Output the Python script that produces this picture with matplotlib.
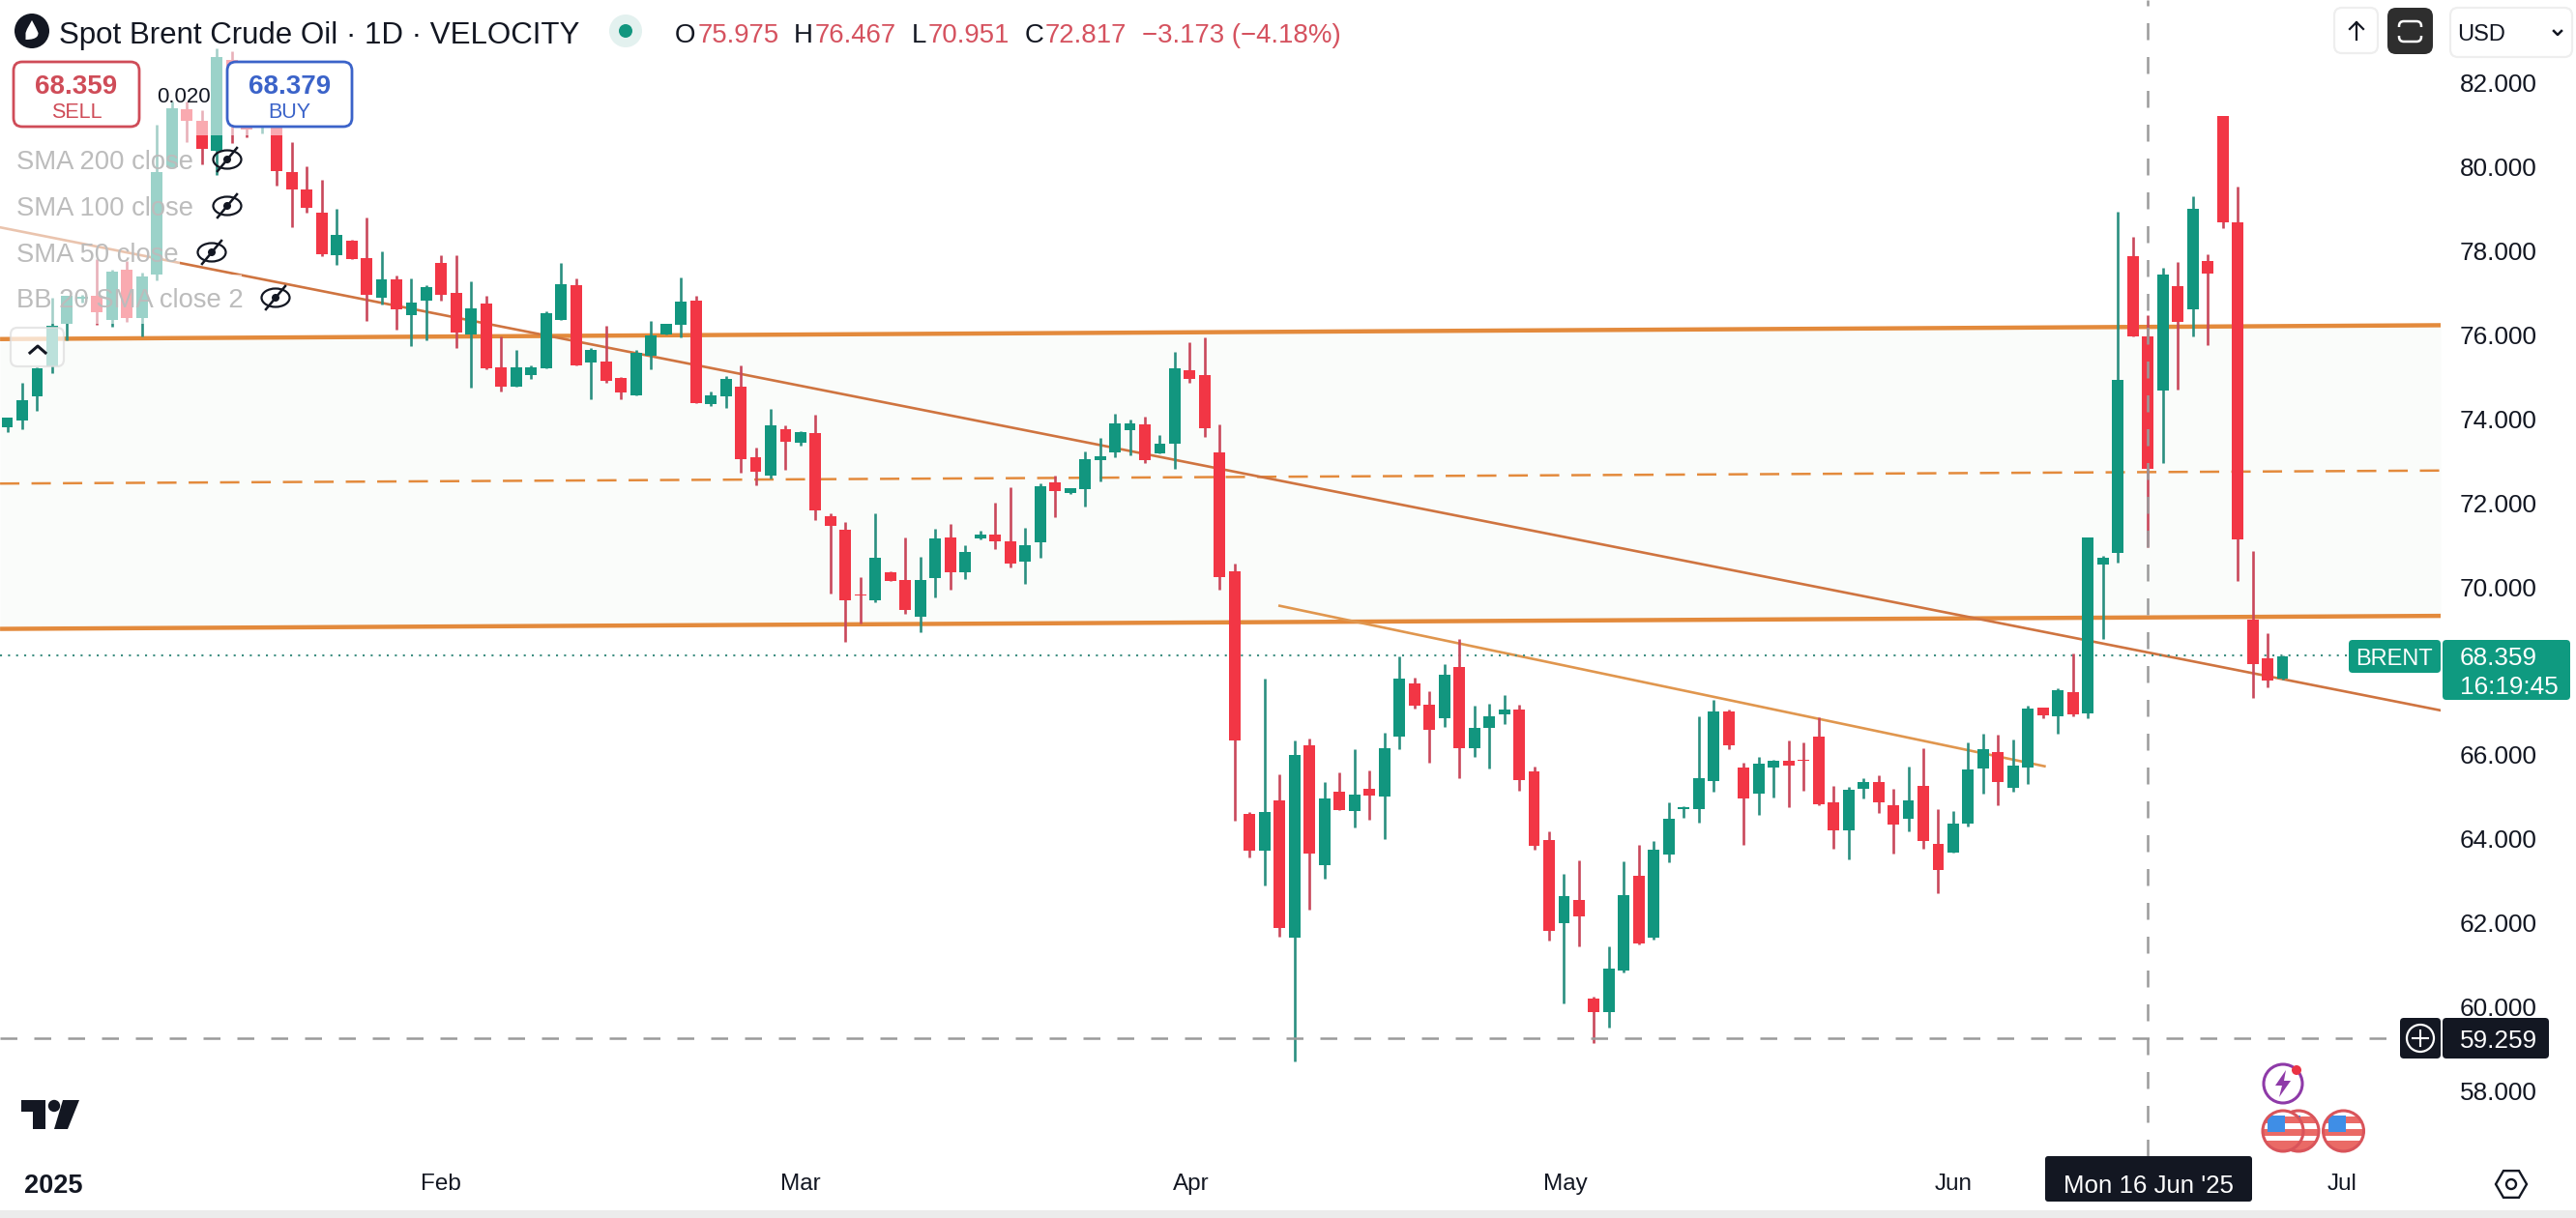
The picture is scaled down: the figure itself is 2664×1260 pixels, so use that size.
import matplotlib
matplotlib.use("Agg")
import matplotlib.pyplot as plt
from matplotlib.patches import FancyBboxPatch, Rectangle, Circle, Ellipse, RegularPolygon, PathPatch, Polygon
from matplotlib.path import Path

plt.rcParams['font.family'] = ['Liberation Sans', 'DejaVu Sans']

# ---------------- data ----------------
opens = [73.80,73.96,74.54,75.24,76.26,76.86,76.92,76.36,77.55,76.40,
 77.44,79.98,81.37,81.10,80.39,82.55,81.67,80.94,81.29,79.87,
 79.46,78.91,77.90,78.24,77.83,76.89,77.32,76.47,76.82,77.71,
 76.99,76.00,76.74,75.23,74.77,75.05,75.21,76.36,77.18,75.34,
 75.37,74.98,74.56,75.50,76.01,76.24,76.82,74.35,74.54,74.77,
 73.08,72.66,73.76,73.43,73.66,71.68,71.36,69.81,69.69,70.35,
 70.17,69.30,70.20,71.18,70.35,71.16,71.25,71.09,70.60,71.06,
 72.49,72.24,72.33,73.02,73.20,73.73,73.87,73.18,73.41,75.16,
 75.04,73.20,70.37,64.60,63.71,64.92,61.65,66.23,63.37,65.12,
 64.66,65.19,65.01,66.44,67.70,67.20,66.87,68.09,66.16,66.64,
 66.97,67.08,65.61,63.97,62.00,62.55,60.20,59.88,60.87,63.12,
 61.65,63.63,64.72,64.71,65.38,67.03,65.70,65.08,65.70,65.86,
 65.89,66.44,64.87,64.20,65.19,65.36,64.80,64.48,65.26,63.87,
 63.68,64.37,65.68,66.07,65.22,65.70,67.13,66.92,67.49,66.99,
 70.54,70.80,77.88,75.975,74.68,77.16,76.61,77.76,81.22,78.69,
 69.22,68.30,67.81]
highs = [74.04,74.86,75.23,76.88,76.92,76.95,77.80,77.55,77.76,77.49,
 81.00,81.56,81.56,81.35,82.82,82.75,81.75,81.21,81.44,80.58,
 80.01,79.69,79.00,78.26,78.80,77.99,77.42,77.34,77.19,77.89,
 77.89,77.28,76.92,75.96,75.64,75.27,76.57,77.72,77.34,75.69,
 76.21,75.00,75.65,76.33,76.26,77.36,76.94,74.65,75.01,75.27,
 73.31,74.23,73.85,73.71,74.10,71.75,71.55,70.24,71.75,70.36,
 71.18,70.72,71.39,71.50,70.99,71.34,72.00,72.37,71.41,72.47,
 72.65,72.35,73.23,73.55,74.12,73.99,74.05,73.62,75.60,75.83,
 75.94,73.87,70.56,64.64,67.82,65.54,66.34,66.39,65.35,65.59,
 66.14,65.63,66.53,68.35,67.84,67.52,68.16,68.76,67.17,67.22,
 67.43,67.20,65.72,64.18,63.17,63.49,60.25,61.44,63.47,63.86,
 63.95,64.87,64.78,66.92,67.31,67.08,65.81,65.95,65.88,66.34,
 66.30,66.90,65.26,65.24,65.45,65.52,65.19,65.72,66.16,64.70,
 64.66,66.30,66.50,66.48,66.37,67.17,67.13,67.59,68.41,71.17,
 70.73,78.93,78.34,76.467,77.59,77.73,79.30,77.91,81.22,79.53,
 70.85,68.90,68.37]
lows = [73.69,73.76,74.19,75.08,75.88,76.76,76.24,76.20,76.32,75.96,
 77.29,79.98,80.60,80.07,79.81,80.56,80.71,80.79,79.56,78.57,
 78.91,77.87,77.67,77.80,76.34,76.72,76.13,75.73,75.88,76.82,
 75.69,74.75,75.17,74.65,74.77,74.96,75.21,76.36,75.28,74.46,
 74.87,74.46,74.56,75.17,76.01,75.93,74.38,74.31,74.27,72.72,
 72.43,72.58,72.79,73.37,71.60,69.85,68.69,69.13,69.64,70.15,
 69.37,68.91,69.76,69.94,70.19,71.14,70.90,70.47,70.07,70.69,
 71.66,72.21,71.91,72.51,73.09,73.14,72.95,73.18,72.81,74.86,
 73.57,69.93,64.43,63.57,62.88,61.67,58.71,62.32,63.05,64.69,
 64.27,64.46,63.99,66.14,67.10,65.81,66.67,65.45,65.95,65.68,
 66.74,65.15,63.74,61.58,60.08,61.44,59.14,59.51,60.82,61.49,
 61.60,63.44,64.50,64.39,65.12,66.14,63.86,64.57,64.99,64.76,
 65.15,64.80,63.77,63.51,64.96,64.62,63.65,64.18,63.76,62.71,
 63.68,64.30,65.08,64.80,65.12,65.31,66.87,66.50,66.92,66.87,
 68.77,70.57,75.97,70.951,72.95,74.70,75.96,75.75,78.55,70.15,
 67.35,67.60,67.79]
closes = [74.02,74.45,75.21,76.21,76.92,76.90,76.53,77.51,76.40,77.39,
 79.87,81.40,81.10,80.43,82.61,81.67,80.90,81.13,79.91,79.46,
 79.03,77.91,78.37,77.81,76.96,77.32,76.61,76.76,77.13,76.96,
 76.06,76.63,75.21,74.77,75.23,75.23,76.51,77.21,75.28,75.64,
 74.91,74.62,75.57,75.98,76.26,76.79,74.38,74.55,74.94,73.03,
 72.74,73.85,73.46,73.68,71.83,71.45,69.67,69.79,70.69,70.15,
 69.46,70.17,71.15,70.35,70.83,71.25,71.09,70.56,70.99,72.40,
 72.28,72.34,73.04,73.11,73.89,73.89,73.02,73.41,75.20,74.95,
 73.78,70.23,66.34,63.71,64.64,61.88,66.00,63.66,64.96,64.69,
 65.05,65.03,66.16,67.82,67.17,66.60,67.91,66.16,66.64,66.92,
 67.08,65.41,63.84,61.81,62.64,62.16,59.88,60.91,62.66,61.51,
 63.74,64.48,64.76,65.45,67.03,66.23,64.96,65.79,65.86,65.75,
 65.87,64.83,64.20,65.17,65.36,64.87,64.34,64.92,63.94,63.26,
 64.36,65.65,66.14,65.35,65.75,67.10,66.94,67.54,66.96,71.17,
 70.70,74.93,75.97,72.817,77.44,76.31,79.00,77.47,78.67,71.13,
 68.16,67.77,68.35]

# the 68.000 label is covered by the last-price tag in the reference
price_ticks = [58, 60, 62, 64, 66, 70, 72, 74, 76, 78, 80, 82]
month_labels = ["2025", "Feb", "Mar", "Apr", "May", "Jun", "Jul"]
month_bars = [3.07, 29, 53, 79.1, 104.1, 130, 156]

band_x = [-0.48, 162.56]
band_upper = [75.90, 76.23]
band_middle = [72.46, 72.77]
band_lower = [69.00, 69.31]
trend1_x = [-0.48, 162.56]
trend1_y = [78.56, 67.06]
trend2_x = [85.0, 136.1]
trend2_y = [69.55, 65.73]
last_price = 68.359
cross_price = 59.259
cross_bar = 143

GREEN, RED = '#12967f', '#f23645'
WICK_G, WICK_R = '#2a8f80', '#c9485b'
ORANGE, TREND = '#e38a3c', '#cf7440'

# ---------------- figure ----------------
W, H = 2664, 1260
fig = plt.figure(figsize=(W / 100, H / 100), dpi=100, facecolor='white')
PANE_R, PANE_B = 2524, 1196
ax = fig.add_axes([0, 1 - PANE_B / H, PANE_R / W, PANE_B / H])
ax.set_xlim(-0.4845, 162.56)
ax.set_ylim(83.973 - PANE_B / 43.45, 83.973)
for s in ax.spines.values():
    s.set_visible(False)

ax.fill_between(band_x, band_lower, band_upper, color='#fafcfa', lw=0, zorder=1)
ax.plot(band_x, band_upper, color=ORANGE, lw=3.2, zorder=2, solid_capstyle='butt')
ax.plot(band_x, band_lower, color=ORANGE, lw=3.2, zorder=2, solid_capstyle='butt')
ax.plot(band_x, band_middle, color=ORANGE, lw=1.8, ls=(0, (8, 5)), zorder=2)
ax.plot(trend1_x, trend1_y, color=TREND, lw=1.9, zorder=2)
ax.plot(trend2_x, trend2_y, color='#e0964e', lw=1.9, zorder=2)
ax.hlines(last_price, -0.48, 156.4, color='#3f8f82', lw=1.5, ls=(0, (1, 3)), zorder=2)

for i, (o, h, l, c) in enumerate(zip(opens, highs, lows, closes)):
    up = c >= o
    ax.vlines(i, l, h, color=WICK_G if up else WICK_R, lw=1.9, zorder=3)
    ax.bar(i, abs(c - o), bottom=min(o, c), width=0.77,
           color=GREEN if up else RED, lw=0, zorder=4)

ax.hlines(cross_price, -0.48, 159.3, color='#9a9a9a', lw=1.8, ls=(0, (7, 7)), zorder=5)
ax.vlines(cross_bar, 56.447, 83.973, color='#9a9a9a', lw=1.8, ls=(0, (7, 7)), zorder=5)

ax.yaxis.tick_right()
ax.set_yticks(price_ticks)
ax.set_yticklabels([f"{p:.3f}" for p in price_ticks], fontsize=18.8, color='#131722')
ax.tick_params(axis='y', length=0, pad=14)
ax.set_xticks(month_bars)
ax.set_xticklabels(month_labels, fontsize=17.5, color='#131722')
ax.tick_params(axis='x', length=0, pad=13)
ax.get_xticklabels()[0].set_fontweight('bold')
ax.get_xticklabels()[0].set_fontsize(19.5)

# ---------------- overlay (pixel coordinates) ----------------
ov = fig.add_axes([0, 0, 1, 1], zorder=10)
ov.set_xlim(0, W)
ov.set_ylim(H, 0)
ov.axis('off')
ov.patch.set_alpha(0)


def rbox(x0, y0, x1, y1, r=6, fc='white', ec='none', lw=0, alpha=None, z=2):
    p = FancyBboxPatch((x0 + r, y0 + r), x1 - x0 - 2 * r, y1 - y0 - 2 * r,
                       boxstyle=f"round,pad={r},rounding_size={r}",
                       fc=fc, ec=ec, lw=lw, alpha=alpha, zorder=z)
    ov.add_patch(p)
    return p


def txt(x, y, s, size, color='#131722', ha='center', weight='normal', z=6):
    ov.text(x, y, s, fontsize=size, color=color, ha=ha, va='center_baseline',
            fontweight=weight, zorder=z)


# translucent legend backgrounds over the candles
for x0, y0, x1, y1 in [(0, 0, 295, 140), (0, 140, 200, 236), (0, 236, 186, 284), (0, 284, 250, 335)]:
    ov.add_patch(Rectangle((x0, y0), x1 - x0, y1 - y0, fc='white', alpha=0.58, lw=0, zorder=1))
ov.add_patch(Rectangle((0, 0), 1400, 50, fc='white', lw=0, zorder=1.5))

# header
ov.add_patch(Circle((33, 32), 18, fc='#131722', lw=0, zorder=3))
ov.add_patch(PathPatch(Path([(33, 21), (38, 30), (39.5, 34), (39.5, 36), (39.5, 41), (26.5, 41), (26.5, 36),
                             (26.5, 34), (28, 30), (33, 21)],
                            [Path.MOVETO, Path.CURVE3, Path.CURVE3, Path.CURVE4, Path.CURVE4, Path.CURVE4,
                             Path.CURVE3, Path.CURVE3, Path.LINETO, Path.CLOSEPOLY]),
                       fc='white', lw=0, zorder=4))
txt(61, 33, "Spot Brent Crude Oil · 1D · VELOCITY", 22.5, ha='left')
ov.add_patch(Circle((647, 32), 17, fc='#e3f1ef', lw=0, zorder=3))
ov.add_patch(Circle((647, 32), 7, fc=GREEN, lw=0, zorder=4))
HRED = '#d5525f'
for x, s, c in [(698, "O", '#131722'), (722, "75.975", HRED), (821, "H", '#131722'), (843, "76.467", HRED),
                (943, "L", '#131722'), (960, "70.951", HRED), (1060, "C", '#131722'), (1081, "72.817", HRED),
                (1181, "−3.173 (−4.18%)", HRED)]:
    txt(x, 34, s, 19.9, color=c, ha='left')

# sell / buy
rbox(14, 64, 144, 131, r=9, fc='white', ec='#cf4c58', lw=2, z=3)
txt(79, 87, "68.359", 20, color='#cf4c58', weight='bold')
txt(79, 114, "SELL", 15.5, color='#cf4c58')
rbox(235, 64, 364, 131, r=9, fc='white', ec='#3b63c9', lw=2, z=3)
txt(299.5, 87, "68.379", 20, color='#3b63c9', weight='bold')
txt(299.5, 114, "BUY", 15.5, color='#3b63c9')
txt(190, 98, "0.020", 16, color='#131722')

# legend rows
for y, s, ex in [(165, "SMA 200 close", 235), (213, "SMA 100 close", 235), (261, "SMA 50 close", 219),
                 (308, "BB 20 SMA close 2", 285)]:
    txt(17, y, s, 19.7, color='#bcbcbc', ha='left')
    ov.add_patch(Ellipse((ex, y), 29, 19, fc='none', ec='#131722', lw=1.6, zorder=6))
    ov.add_patch(Circle((ex, y), 4, fc='#131722', lw=0, zorder=6))
    ov.plot([ex - 10, ex + 10], [y + 12, y - 12], color='#131722', lw=1.8, zorder=6)

# collapse button
rbox(11, 339, 66, 379, r=7, fc='white', ec='#dddddd', lw=1.6, alpha=0.72, z=3)
ov.plot([31, 39, 47], [365, 358, 365], color='#131722', lw=2.2, zorder=6)

# top-right buttons
rbox(2414, 8, 2459, 55, r=8, fc='white', ec='#eeeeee', lw=1.6, z=3)
ov.plot([2437, 2437], [23, 41], color='#131722', lw=1.6, zorder=6)
ov.plot([2430, 2437, 2444], [30, 23, 30], color='#131722', lw=1.6, zorder=6)
rbox(2469, 8, 2516, 56, r=9, fc='#2e2e2e', z=3)
rbox(2481, 22, 2504, 43, r=5, fc='none', ec='white', lw=1.8, z=6)
ov.add_patch(Rectangle((2478, 28), 30, 9, fc='#2e2e2e', lw=0, zorder=7))
rbox(2534, 8, 2660, 59, r=8, fc='white', ec='#eeeeee', lw=1.6, z=3)
txt(2541, 34, "USD", 17, ha='left')
ov.plot([2641, 2645, 2649], [32, 36, 32], color='#131722', lw=1.8, zorder=6)

# last price labels
TEAL = '#0f9a80'
rbox(2429, 662, 2524, 696, r=4, fc=TEAL, z=3)
rbox(2526, 662, 2658, 724, r=4, fc=TEAL, z=3)
txt(2476, 679, "BRENT", 17, color='white')
txt(2584, 678, f"{last_price:.3f}", 18.8, color='white')
txt(2595, 708, "16:19:45", 18.8, color='white')

# crosshair labels
DARK = '#131722'
rbox(2482, 1053, 2524, 1095, r=4, fc=DARK, z=3)
rbox(2526, 1053, 2636, 1095, r=4, fc=DARK, z=3)
ov.add_patch(Circle((2503, 1074), 14, fc='none', ec='white', lw=1.6, zorder=6))
ov.plot([2495, 2511], [1074, 1074], color='white', lw=1.5, zorder=6)
ov.plot([2503, 2503], [1066, 1082], color='white', lw=1.5, zorder=6)
txt(2584, 1074, f"{cross_price:.3f}", 18.8, color='white')
rbox(2115, 1196, 2329, 1243, r=3, fc=DARK, z=3)
txt(2222, 1225, "Mon 16 Jun '25", 18.6, color='white')

# settings icon & bottom rule
ov.add_patch(RegularPolygon((2597, 1225), 6, radius=16, orientation=0.5236, fc='none', ec='#131722', lw=1.7, zorder=6))
ov.add_patch(Circle((2597, 1225), 5, fc='none', ec='#131722', lw=1.7, zorder=6))
ov.add_patch(Rectangle((0, 1252), W, 8, fc='#ececec', lw=0, zorder=3))

# TradingView logo
ov.add_patch(Polygon([(22, 1138), (47, 1138), (47, 1168), (34, 1168), (34, 1150), (22, 1150)], fc='#131722', lw=0, zorder=6))
ov.add_patch(Circle((56, 1144), 6.2, fc='#131722', lw=0, zorder=6))
ov.add_patch(Polygon([(65, 1138), (82, 1138), (70, 1168), (56, 1168)], fc='#131722', lw=0, zorder=6))

# event icons
ov.add_patch(Circle((2361, 1121), 20, fc='white', ec='#8e3aa8', lw=2.2, zorder=6))
ov.add_patch(Polygon([(2364, 1107), (2353, 1123), (2360, 1123), (2357, 1135), (2369, 1118), (2362, 1118)],
                     fc='#8e3aa8', lw=0, zorder=7))
ov.add_patch(Circle((2375, 1107), 5, fc='#ea3344', lw=0, zorder=8))


def flag(cx, cy, z):
    r = 21
    base = Circle((cx, cy), r, fc='white', ec='none', zorder=z)
    ov.add_patch(base)
    for y0, h in [(cy - 15, 7), (cy - 2, 7), (cy + 10, 10)]:
        p = Rectangle((cx - r, y0), 2 * r, h, fc='#ea6a66', lw=0, zorder=z + 0.1)
        ov.add_patch(p)
        p.set_clip_path(base)
    p = Rectangle((cx - 16, cy - 16), 18, 17, fc='#3f8ee6', lw=0, zorder=z + 0.2)
    ov.add_patch(p)
    p.set_clip_path(base)
    ov.add_patch(Circle((cx, cy), r, fc='none', ec='#d9545a', lw=2.2, zorder=z + 0.3))


flag(2377, 1170, 6)
flag(2361, 1170, 7)
flag(2423.5, 1170, 6)

fig.savefig('out.png', dpi=100, facecolor='white')
